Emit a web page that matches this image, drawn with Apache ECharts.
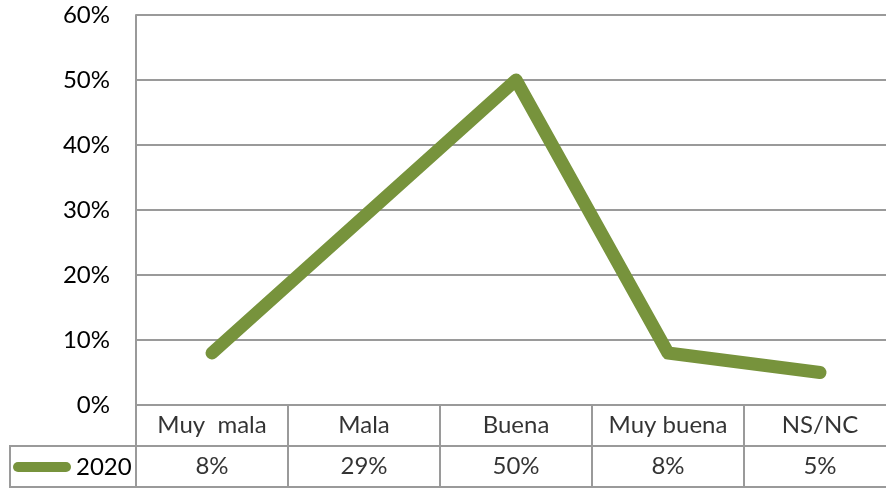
<!DOCTYPE html>
<html><head><meta charset="utf-8">
<script src="https://cdn.jsdelivr.net/npm/echarts@6/dist/echarts.min.js"></script>
<style>html,body{margin:0;padding:0;background:#fff}#c{width:886px;height:488px}</style>
</head><body><div id="c"></div>
<script>
const categories = ['Muy  mala', 'Mala', 'Buena', 'Muy buena', 'NS/NC'];
const seriesName = '2020';
const values = [8, 29, 50, 8, 5];
const yTicks = [0, 10, 20, 30, 40, 50, 60];

const FONT = 'Lato';
const GRID_C = '#9a9a9a';
const LINE_C = '#77933C';

const tableCells = [];
categories.forEach((c, i) => {
  tableCells.push([i, 0, c]);
  tableCells.push([i, 1, values[i] + '%']);
});

const chart = echarts.init(document.getElementById('c'), null, {renderer: 'canvas'});
chart.setOption({
  animation: false,
  backgroundColor: '#fff',
  textStyle: {fontFamily: FONT},
  grid: [
    {left: 136, width: 760, top: 15, height: 390, containLabel: false, outerBoundsMode: 'none'},
    {left: 136, width: 760, top: 405, height: 82, show: true, borderColor: GRID_C, borderWidth: 2, containLabel: false, outerBoundsMode: 'none'},
    {left: 10, width: 126, top: 446, height: 41, show: true, borderColor: GRID_C, borderWidth: 2, containLabel: false, outerBoundsMode: 'none'}
  ],
  legend: {
    data: [seriesName],
    left: 13, top: 455,
    icon: 'path://M5,0 L53,0 A5,5 0 0 1 53,10 L5,10 A5,5 0 0 1 5,0 Z',
    itemWidth: 58, itemHeight: 10,
    padding: 0,
    textStyle: {fontFamily: FONT, fontSize: 24, color: '#000'}
  },
  xAxis: [
    {type: 'category', gridIndex: 0, data: categories, boundaryGap: true,
     axisLine: {show: true, lineStyle: {color: GRID_C, width: 2}},
     axisTick: {show: false}, axisLabel: {show: false}, splitLine: {show: false}},
    {type: 'category', gridIndex: 1, data: categories, boundaryGap: true,
     axisLine: {show: false}, axisTick: {show: false}, axisLabel: {show: false},
     splitLine: {show: true, lineStyle: {color: GRID_C, width: 2}}},
    {type: 'value', gridIndex: 2, show: false}
  ],
  yAxis: [
    {type: 'value', gridIndex: 0, min: 0, max: 60, interval: 10,
     axisLine: {show: true, lineStyle: {color: GRID_C, width: 2}},
     axisTick: {show: false},
     axisLabel: {formatter: '{value}%', fontFamily: FONT, fontSize: 24, color: '#000', margin: 26},
     splitLine: {show: true, lineStyle: {color: GRID_C, width: 2}}},
    {type: 'category', gridIndex: 1, data: ['cat', 'val'], inverse: true, boundaryGap: true,
     axisLine: {show: false}, axisTick: {show: false}, axisLabel: {show: false},
     splitLine: {show: true, lineStyle: {color: GRID_C, width: 2}}},
    {type: 'value', gridIndex: 2, show: false}
  ],
  series: [
    {name: seriesName, type: 'line', xAxisIndex: 0, yAxisIndex: 0, data: values,
     showSymbol: false, symbol: 'none', color: LINE_C,
     lineStyle: {color: LINE_C, width: 13, cap: 'round', join: 'round'}},
    {name: 'table', type: 'scatter', xAxisIndex: 1, yAxisIndex: 1, symbolSize: 0,
     data: tableCells, silent: true,
     label: {show: true, position: 'inside', formatter: p => p.data[2],
             fontFamily: FONT, fontSize: 24, color: '#000'}}
  ]
});
</script></body></html>
